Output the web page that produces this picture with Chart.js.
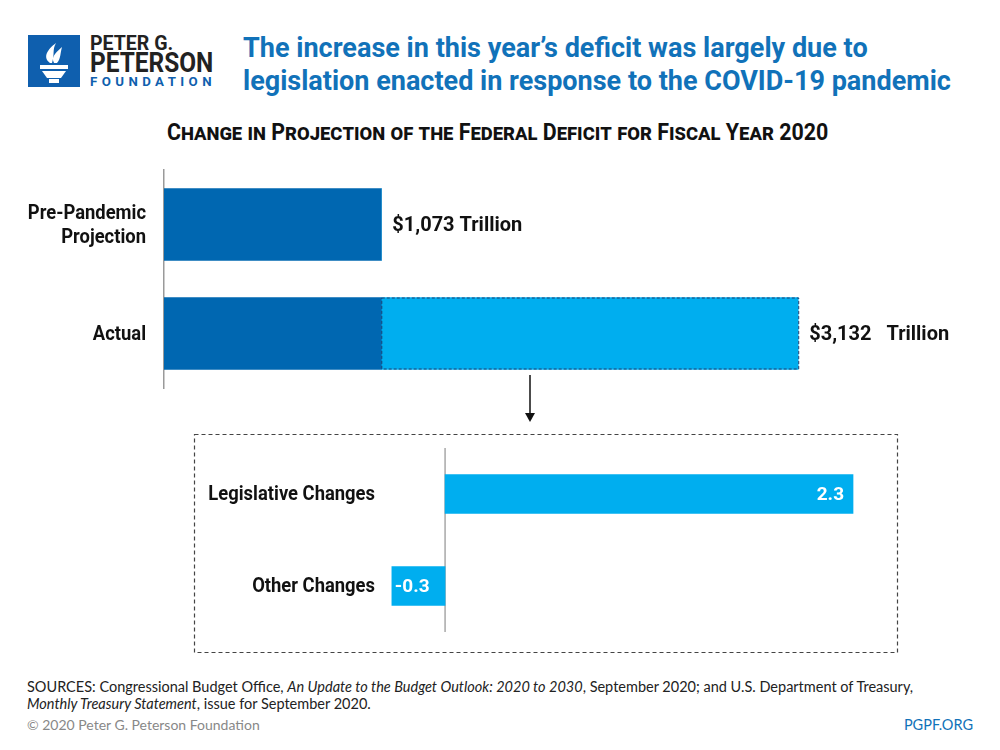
<!DOCTYPE html>
<html>
<head>
<meta charset="utf-8">
<script src="https://cdn.jsdelivr.net/npm/chart.js@4/dist/chart.umd.min.js"></script>
<style>
    body { margin: 0; width: 1000px; height: 750px; background: #fff; position: relative; overflow: hidden; }
    .abs { position: absolute; }
    .narrow { font-family: Roboto, sans-serif; font-weight: bold; }
    .fit { white-space: nowrap; transform-origin: left top; }
    .title { left: 243px; color: #1172b9; font-size: 28px; }
    .subtitle { top: 119px; left: 167px; color: #111; font-size: 23px; font-variant: small-caps; }
    .foot { font-family: "Lato", "Open Sans", sans-serif; font-size: 14.5px; color: #222; }
</style>
</head>
<body>

<!-- logo -->
<svg class="abs" style="left:28px;top:35px" width="52" height="52" viewBox="0 0 52 52">
    <rect width="52" height="52" fill="#0f5fae"/>
    <path d="M22 28 C14 22 20 14 28 8 C24 15 27 19 24 28 Z" fill="#fff"/>
    <path d="M26 28 C22 21 30 16 34 12 C32 19 33 23 29 28 Z" fill="#fff"/>
    <rect x="12" y="30" width="28" height="4" fill="#fff"/>
    <path d="M14 36 H38 L33 43 H19 Z" fill="#fff"/>
    <rect x="21" y="44" width="10" height="4" fill="#fff"/>
</svg>
<div id="l1" class="abs fit" style="left:90px;top:31px;font-family:Roboto,sans-serif;font-weight:bold;color:#222;font-size:20px">PETER G.</div>
<div id="l2" class="abs fit" style="left:90px;top:46px;font-family:Roboto,sans-serif;font-weight:bold;color:#222;font-size:28px">PETERSON</div>
<div id="l3" class="abs fit" style="left:90px;top:75px;font-family:Roboto,sans-serif;font-weight:bold;color:#0f5fae;font-size:12px;letter-spacing:4px">FOUNDATION</div>

<div id="t1" class="abs fit title narrow" style="top:31px">The increase in this year’s deficit was largely due to</div>
<div id="t2" class="abs fit title narrow" style="top:64px">legislation enacted in response to the COVID-19 pandemic</div>
<div id="sub" class="abs fit subtitle narrow">Change in Projection of the Federal Deficit for Fiscal Year 2020</div>

<canvas id="top" class="abs" style="left:0;top:160px" width="1000" height="240"></canvas>

<svg class="abs" style="left:520px;top:374px" width="20" height="50">
    <line x1="10" y1="1" x2="10" y2="40" stroke="#111" stroke-width="1.5"/>
    <path d="M5 39 L15 39 L10 48 Z" fill="#111"/>
</svg>

<svg class="abs" style="left:193px;top:433px" width="706" height="221">
    <rect x="1.5" y="1.5" width="703" height="218" fill="none" stroke="#444" stroke-width="1.2" stroke-dasharray="4 3"/>
</svg>
<canvas id="bottom" class="abs" style="left:0;top:440px" width="1000" height="200"></canvas>

<div class="abs foot" style="left:27px;top:678px">SOURCES: Congressional Budget Office, <i>An Update to the Budget Outlook: 2020 to 2030</i>, September 2020; and U.S. Department of Treasury,</div>
<div class="abs foot" style="left:27px;top:695px"><i>Monthly Treasury Statement</i>, issue for September 2020.</div>
<div class="abs foot" style="left:27px;top:716px;color:#888;font-size:14px">© 2020 Peter G. Peterson Foundation</div>
<div class="abs foot" style="right:27px;top:716px;color:#1172b9;font-size:14.5px">PGPF.ORG</div>

<script>
// top chart data (trillions of dollars)
const rowLabels = [['Pre-Pandemic', 'Projection'], 'Actual'];
const preValues = [1.073, 1.073];
const increaseValues = [0, 2.059];

// bottom chart data
const changeLabels = ['Legislative Changes', 'Other Changes'];
const changeValues = [2.3, -0.3];

const DARK = '#0067b1';
const LIGHT = '#00aeef';
const FAMILY = 'Roboto, sans-serif';

// squeeze the heading lines to the width they have in the picture
function fit(id, width) {
    const el = document.getElementById(id);
    const w = el.scrollWidth;
    if (w > 0) el.style.transform = 'scaleX(' + (width / w) + ')';
}
fit('t1', 625);
fit('t2', 708);
fit('sub', 661);
fit('l1', 83);
fit('l2', 123);
fit('l3', 126);

// keep category rows where the picture has them
function fixAxis(width) {
    return function (scale) {
        scale.width = width;
        scale.paddingTop = 0;
        scale.paddingBottom = 0;
    };
}

// category labels in a condensed look (the original face is narrow)
const condensedLabels = {
    id: 'condensedLabels',
    afterDraw(chart, args, opts) {
        const scale = chart.scales.y;
        const ctx = chart.ctx;
        ctx.save();
        ctx.font = 'bold 20px ' + FAMILY;
        ctx.fillStyle = '#111';
        ctx.textAlign = 'right';
        ctx.textBaseline = 'middle';
        scale.getLabels().forEach((lab, i) => {
            const lines = Array.isArray(lab) ? lab : [lab];
            const y = scale.getPixelForTick(i);
            lines.forEach((line, k) => {
                const dy = (k - (lines.length - 1) / 2) * 24;
                ctx.save();
                ctx.translate(opts.right, y + dy + 1);
                ctx.scale(0.92, 1);
                ctx.fillText(line, 0, 0);
                ctx.restore();
            });
        });
        ctx.restore();
    }
};

const topExtras = {
    id: 'topExtras',
    afterDatasetsDraw(chart) {
        const ctx = chart.ctx;
        // dashed outline round the increase
        const meta = chart.getDatasetMeta(1);
        ctx.save();
        ctx.strokeStyle = '#1c3f73';
        ctx.lineWidth = 1;
        ctx.setLineDash([3, 2]);
        meta.data.forEach((bar, i) => {
            if (!increaseValues[i]) return;
            const p = bar.getProps(['x', 'y', 'base', 'height'], true);
            ctx.strokeRect(p.base + 0.5, p.y - p.height / 2 + 0.5, p.x - p.base, p.height - 1);
        });
        ctx.restore();

        // totals at the end of each bar
        ctx.save();
        ctx.font = 'bold 20px ' + FAMILY;
        ctx.fillStyle = '#111';
        ctx.textBaseline = 'middle';
        rowLabels.forEach((lab, i) => {
            const total = preValues[i] + increaseValues[i];
            const end = chart.scales.x.getPixelForValue(total);
            const y = chart.scales.y.getPixelForValue(i);
            const txt = '$' + total.toFixed(3).replace('.', ',') + (i === 1 ? '   Trillion' : ' Trillion');
            ctx.fillText(txt, end + 11, y + 1);
        });
        ctx.restore();
    }
};

new Chart(document.getElementById('top'), {
    type: 'bar',
    data: {
        labels: rowLabels,
        datasets: [
            {label: 'Pre-Pandemic', data: preValues, backgroundColor: DARK, barThickness: 72},
            {label: 'Increase', data: increaseValues, backgroundColor: LIGHT, barThickness: 72}
        ]
    },
    options: {
        indexAxis: 'y',
        responsive: false,
        animation: false,
        devicePixelRatio: 1,
        layout: {padding: {top: 10, bottom: 12, left: 0, right: 26}},
        plugins: {legend: {display: false}, tooltip: {enabled: false}, condensedLabels: {right: 146}},
        scales: {
            x: {stacked: true, display: false, min: 0, max: 4},
            y: {
                stacked: true,
                grid: {display: false},
                border: {display: true, color: '#9a9a9a', width: 1.5},
                ticks: {display: false},
                afterFit: fixAxis(164)
            }
        }
    },
    plugins: [topExtras, condensedLabels]
});

const bottomExtras = {
    id: 'bottomExtras',
    beforeDatasetsDraw(chart) {
        const ctx = chart.ctx;
        const x0 = chart.scales.x.getPixelForValue(0);
        ctx.save();
        ctx.strokeStyle = '#a8a8a8';
        ctx.lineWidth = 1.5;
        ctx.beginPath();
        ctx.moveTo(x0, chart.chartArea.top);
        ctx.lineTo(x0, chart.chartArea.bottom);
        ctx.stroke();
        ctx.restore();
    },
    afterDatasetsDraw(chart) {
        const ctx = chart.ctx;
        ctx.save();
        ctx.font = 'bold 19px ' + FAMILY;
        ctx.fillStyle = '#fff';
        ctx.textBaseline = 'middle';
        chart.getDatasetMeta(0).data.forEach((bar, i) => {
            const p = bar.getProps(['x', 'y', 'base'], true);
            const v = changeValues[i];
            if (v >= 0) {
                ctx.textAlign = 'right';
                ctx.fillText(String(v), p.x - 9, p.y + 1);
            } else {
                ctx.textAlign = 'left';
                ctx.fillText(String(v), p.x + 3, p.y + 1);
            }
        });
        ctx.restore();
    }
};

new Chart(document.getElementById('bottom'), {
    type: 'bar',
    data: {
        labels: changeLabels,
        datasets: [{data: changeValues, backgroundColor: LIGHT, barThickness: 39}]
    },
    options: {
        indexAxis: 'y',
        responsive: false,
        animation: false,
        devicePixelRatio: 1,
        layout: {padding: {top: 8, bottom: 8, left: 0, right: 111.5}},
        plugins: {legend: {display: false}, tooltip: {enabled: false}, condensedLabels: {right: 375}},
        scales: {
            x: {display: false, min: -0.35, max: 2.5},
            y: {
                grid: {display: false},
                border: {display: false},
                ticks: {display: false},
                afterFit: fixAxis(383)
            }
        }
    },
    plugins: [bottomExtras, condensedLabels]
});
</script>
</body>
</html>
